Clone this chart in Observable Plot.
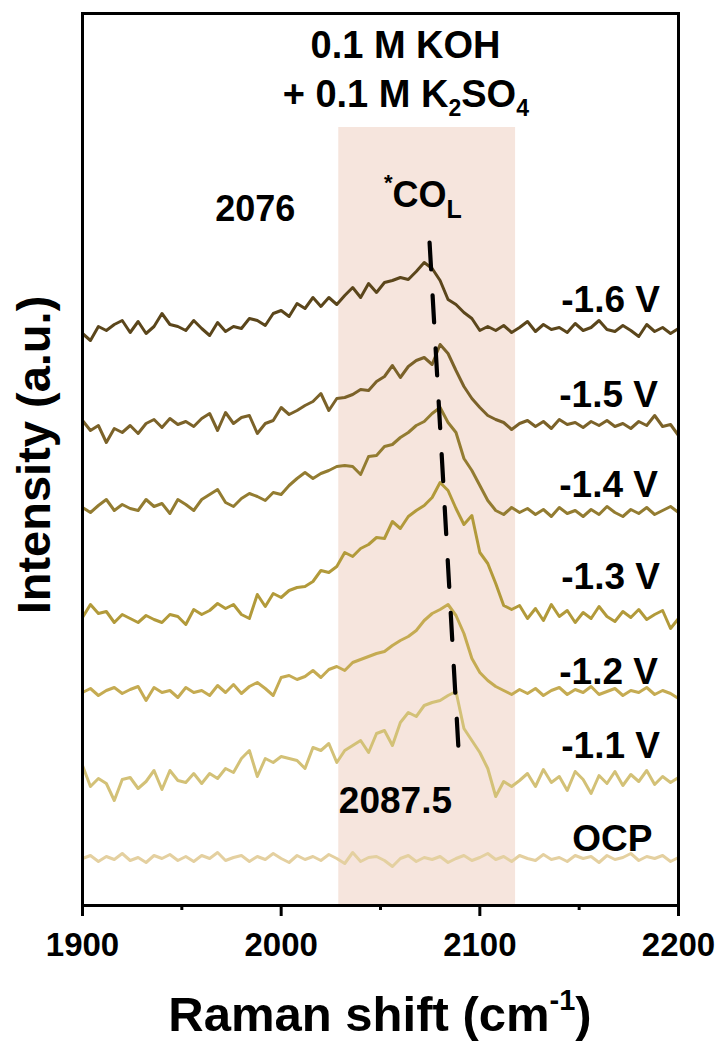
<!DOCTYPE html>
<html>
<head>
<meta charset="utf-8">
<script src="https://cdn.jsdelivr.net/npm/d3@7"></script>
<script src="https://cdn.jsdelivr.net/npm/@observablehq/plot@0.6"></script>
<style>
  html, body { margin: 0; padding: 0; background: #fff; }
  #chart svg { display: block; }
</style>
</head>
<body>
<div id="chart"></div>
<script>
// ---------- DATA ----------
const wavenumbers = d3.range(1900, 2201, 4); // Raman shift sample grid (cm-1)

const seriesLabels = ["-1.6 V", "-1.5 V", "-1.4 V", "-1.3 V", "-1.2 V", "-1.1 V", "OCP"];

const v16 = [567,560,574,570,576,580,568,579,567,574,
  587,576,574,570,580,572,565,578,569,574,
  572,582,580,575,587,590,584,597,592,603,
  594,603,596,605,613,603,617,608,618,620,
  623,621,629,638,632,620,601,596,588,582,
  570,574,570,575,568,573,579,569,576,571,
  573,568,577,570,573,580,571,569,575,570,
  564,576,569,573,567,572];

const v15 = [480,470,475,458,472,468,475,467,477,481,
  473,482,476,479,474,482,487,470,488,477,
  483,485,467,477,480,493,486,490,495,499,
  507,490,502,503,506,511,510,519,524,535,
  523,534,540,543,536,556,547,530,514,502,
  493,485,481,478,471,477,480,474,479,472,
  481,476,478,473,479,475,480,474,477,472,
  479,475,485,474,476,465];

const v14 = [393,388,395,401,390,396,392,390,401,394,
  397,387,401,396,390,401,406,411,398,394,
  402,407,404,400,408,406,415,422,428,422,
  427,430,434,435,434,426,444,445,454,456,
  463,468,475,479,487,493,478,468,442,430,
  415,400,390,386,393,388,392,386,391,384,
  393,387,390,384,391,386,394,388,384,391,
  387,393,386,390,394,388];

const v13 = [283,296,287,289,278,286,282,278,285,281,
  278,286,284,276,291,286,290,297,292,296,
  286,282,306,294,307,303,310,313,314,319,
  330,328,334,348,344,352,356,363,362,379,
  372,384,390,395,403,418,410,392,376,385,
  348,337,317,295,291,295,282,292,280,296,
  284,290,278,288,282,294,284,279,289,283,
  291,281,286,290,272,282];

const v12 = [208,212,205,210,213,207,211,214,200,213,
  208,210,203,213,208,210,205,215,208,216,
  207,214,218,212,205,223,225,221,224,230,
  223,231,234,230,238,241,244,247,249,255,
  260,264,270,280,287,291,296,285,267,242,
  228,220,214,210,206,211,207,212,205,210,
  213,206,211,208,214,206,209,212,205,210,
  208,213,206,210,207,202];

const v11 = [135,114,122,117,100,121,123,112,119,130,
  111,130,120,118,127,117,127,122,132,128,
  142,150,124,142,138,144,142,140,132,153,
  150,157,138,150,155,160,148,167,170,155,
  178,188,184,195,198,200,205,209,172,160,
  148,132,104,119,114,120,127,114,131,118,
  124,110,129,121,107,125,117,129,115,126,
  119,130,116,124,118,123];

const vOCP = [42,45,39,44,41,47,40,43,38,45,
  42,46,40,44,39,45,42,48,40,43,
  45,39,44,41,47,42,38,45,41,44,
  40,46,42,37,48,39,43,44,40,34,
  42,45,39,43,41,44,38,42,45,40,
  43,47,41,44,39,45,42,40,46,41,
  43,39,45,42,44,38,45,41,43,47,
  40,44,42,45,39,43];

const seriesValues = [v16, v15, v14, v13, v12, v11, vOCP];
const seriesColors = ["#5b461b", "#7b6229", "#937c31", "#b29a3a", "#c5ab52", "#d3c177", "#e4d0a0"];

// label anchor points (data units) for the potential labels
const labelX = [2141, 2140, 2140, 2141, 2140, 2141, 2146.5];
const labelY = [589, 494, 404, 312, 217, 143, 50];

const majorTicks = [1900, 2000, 2100, 2200];
const minorTicks = [1950, 2050, 2150];

const bandRange = [2029, 2118];   // *CO_L region
const bandTop = 773;
const peakShiftX = [2074.7, 2089.3]; // 2076 -> 2087.5 trend
const peakShiftY = [658, 150];

// ---------- BUILD ----------
const W = 719, H = 1043;
const M = {top: 13, right: 41, bottom: 138, left: 82};
const FONT = "'Liberation Sans', Arial, Helvetica, sans-serif";
const yDomain = [-5, 887];

const tidy = [];
seriesLabels.forEach((s, k) => seriesValues[k].forEach((v, i) => tidy.push({series: s, x: wavenumbers[i], y: v})));
const labels = seriesLabels.map((s, k) => ({text: s, x: labelX[k], y: labelY[k]}));
const band = [{x1: bandRange[0], x2: bandRange[1], y1: yDomain[0], y2: bandTop}];
const track = peakShiftX.map((x, i) => ({x, y: peakShiftY[i]}));

const plot = Plot.plot({
  width: W, height: H,
  marginTop: M.top, marginRight: M.right, marginBottom: M.bottom, marginLeft: M.left,
  x: {domain: [1900, 2200]},
  y: {domain: yDomain, axis: null},
  color: {domain: seriesLabels, range: seriesColors},
  style: {fontFamily: FONT, fontWeight: "bold", fontSize: "33px", color: "black", background: "white"},
  marks: [
    Plot.rect(band, {x1: "x1", x2: "x2", y1: "y1", y2: "y2", fill: "#f6e5dd"}),
    Plot.line(tidy, {x: "x", y: "y", z: "series", stroke: "series", strokeWidth: 3, strokeLinejoin: "round"}),
    Plot.line(track, {x: "x", y: "y", stroke: "black", strokeWidth: 4.2, strokeDasharray: "27 26"}),
    Plot.text(labels, {x: "x", y: "y", text: "text", textAnchor: "start", lineAnchor: "bottom", fontSize: 37, fill: "black"}),
    Plot.text(["0.1 M KOH"], {x: 2062.6, y: 843, text: d => d, lineAnchor: "bottom", fontSize: 38, fill: "black"}),
    Plot.text(["2076"], {x: 1987, y: 680, text: d => d, lineAnchor: "bottom", fontSize: 36, fill: "black"}),
    Plot.text(["2087.5"], {x: 2057.5, y: 88, text: d => d, lineAnchor: "bottom", fontSize: 37, fill: "black"}),
    Plot.frame({stroke: "black", strokeWidth: 3}),
    Plot.axisX({ticks: majorTicks, tickSize: 11, tickPadding: 16, strokeWidth: 3, label: null, tickFormat: d => String(d)}),
    Plot.axisX({ticks: minorTicks, tickSize: 5, strokeWidth: 3, label: null, tickFormat: () => ""})
  ]
});

document.getElementById("chart").appendChild(plot);

// ---------- rich text (sub/superscripts) ----------
const svg = d3.select(plot);
const sx = plot.scale("x"), sy = plot.scale("y");

function rich(x, y, parts, size, anchor = "middle", transform = null) {
  const t = svg.append("text")
    .attr("x", x).attr("y", y)
    .attr("text-anchor", anchor)
    .attr("font-size", size)
    .attr("font-weight", "bold")
    .attr("font-family", FONT)
    .attr("fill", "black");
  if (transform) t.attr("transform", transform);
  let shift = 0;
  for (const p of parts) {
    const target = p.dy || 0;
    t.append("tspan").attr("dy", target - shift).attr("font-size", p.size || size).text(p.text);
    shift = target;
  }
}

// "+ 0.1 M K2SO4"
rich(sx.apply(2063), sy.apply(793), [
  {text: "+ 0.1 M K"}, {text: "2", size: 23, dy: 9}, {text: "SO"}, {text: "4", size: 23, dy: 9}
], 38);

// "*CO_L"
rich(sx.apply(2052), sy.apply(693), [
  {text: "*", size: 22, dy: -17}, {text: "CO"}, {text: "L", size: 25, dy: 11}
], 36, "start");

// X axis title
const xMid = (M.left + (W - M.right)) / 2;
rich(xMid, H - M.bottom + 126, [
  {text: "Raman shift (cm"}, {text: "-1", size: 29, dy: -21}, {text: ")"}
], 49);

// Y axis title
const yMid = 455, yx = 50;
rich(yx, yMid, [{text: "Intensity (a.u.)"}], 47, "middle", `rotate(-90, ${yx}, ${yMid})`);
</script>
</body>
</html>
